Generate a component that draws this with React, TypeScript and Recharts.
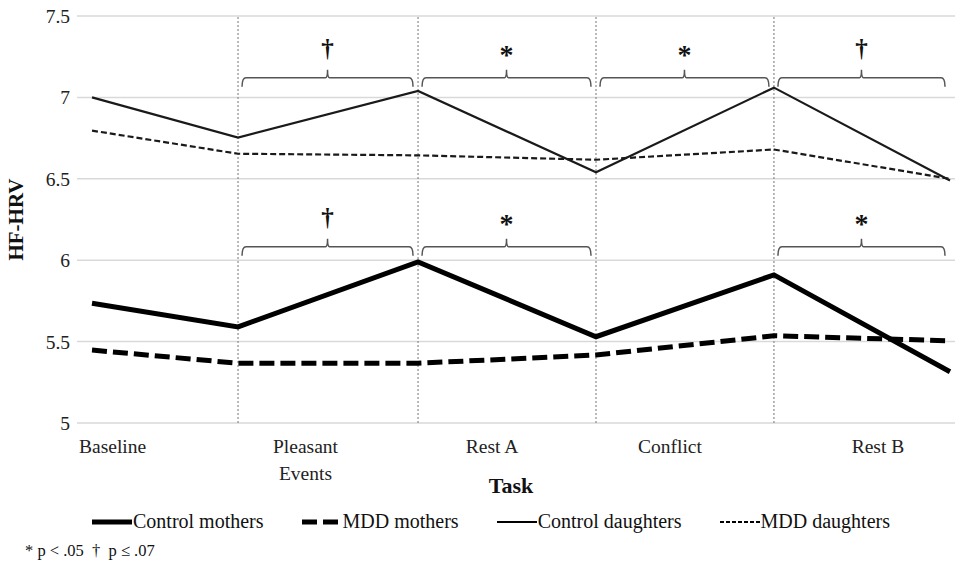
import React from 'react';
import { CartesianGrid, Line, LineChart, ReferenceLine, XAxis, YAxis } from 'recharts';

// task positions along the x axis (measurement points)
const taskX = [0, 0.851, 1.9, 2.937, 3.974, 5];

const controlMothers = [5.735, 5.59, 5.99, 5.53, 5.91, 5.315];
const mddMothers = [5.448, 5.367, 5.367, 5.418, 5.536, 5.505];
const controlDaughters = [7.0, 6.753, 7.04, 6.54, 7.06, 6.49];
const mddDaughters = [6.796, 6.654, 6.644, 6.617, 6.68, 6.5];

const taskLabels = ['Baseline', 'Pleasant\nEvents', 'Rest A', 'Conflict', 'Rest B'];
const taskLabelPos = [0.12, 1.244, 2.331, 3.368, 4.58];
const yTicks = [5, 5.5, 6, 6.5, 7, 7.5];

// significance brackets: from point index to point index
const brackets = [
   { from: 1, to: 2, level: 7.12, mark: '†' },
   { from: 2, to: 3, level: 7.12, mark: '*' },
   { from: 3, to: 4, level: 7.12, mark: '*' },
   { from: 4, to: 5, level: 7.12, mark: '†' },
   { from: 1, to: 2, level: 6.083, mark: '†' },
   { from: 2, to: 3, level: 6.083, mark: '*' },
   { from: 4, to: 5, level: 6.083, mark: '*' },
];

const data = taskX.map((x, i) => ({
   x,
   cm: controlMothers[i],
   mm: mddMothers[i],
   cd: controlDaughters[i],
   md: mddDaughters[i],
}));

const series = [
   { key: 'cm', name: 'Control mothers', width: 5, dash: undefined, color: '#000' },
   { key: 'mm', name: 'MDD mothers', width: 5, dash: '15 6', color: '#000' },
   { key: 'cd', name: 'Control daughters', width: 2.2, dash: undefined, color: '#1a1a1a' },
   { key: 'md', name: 'MDD daughters', width: 2.2, dash: '6 3', color: '#1a1a1a' },
];

const FONT = '"Liberation Serif", "Times New Roman", serif';

const TaskTick = (props: any) => {
   const { x, y, payload } = props;
   const idx = taskLabelPos.indexOf(payload.value);
   const lines = (taskLabels[idx] || '').split('\n');
   return (
      <text x={x} y={y + 28} textAnchor="middle" fontFamily={FONT} fontSize={19.5} fill="#222">
         {lines.map((l, i) => (
            <tspan key={i} x={x} dy={i === 0 ? 0 : 27}>
               {l}
            </tspan>
         ))}
      </text>
   );
};

const BracketShape = (props: any) => {
   const { x1, y1, x2, mark } = props;
   const a = x1 + 4;
   const b = x2 - 5;
   const m = (a + b) / 2;
   const y = y1;
   const d = `M${a} ${y + 9} Q${a} ${y} ${a + 4} ${y} L${m - 2} ${y} Q${m} ${y} ${m} ${y - 8} Q${m} ${y} ${m + 2} ${y} L${b - 4} ${y} Q${b} ${y} ${b} ${y + 9}`;
   const base = mark === '*' ? y - 14 : y - 21;
   return (
      <g>
         <path d={d} fill="none" stroke="#555" strokeWidth={1.5} />
         <text x={m} y={base} textAnchor="middle" fontFamily={FONT} fontWeight="bold" fontSize={mark === '*' ? 28 : 25} fill="#111">
            {mark}
         </text>
      </g>
   );
};

const LegendSample = ({ width, dash }: { width: number; dash?: string }) => (
   <svg width={40} height={10} style={{ display: 'block' }}>
      <line x1={0} y1={5} x2={40} y2={5} stroke="#000" strokeWidth={width} strokeDasharray={dash} />
   </svg>
);

export default function App() {
   return (
      <div style={{ position: 'absolute', left: 0, top: 0, width: 955, height: 572, background: '#fff', fontFamily: FONT }}>
         <LineChart width={955} height={572} data={data} margin={{ top: 16, right: 0, left: 0, bottom: 89 }}>
            <CartesianGrid vertical={false} stroke="#d9d9d9" strokeWidth={1.5} />
            <XAxis
               type="number"
               dataKey="x"
               domain={[-0.0874, 5.0291]}
               ticks={taskLabelPos}
               tick={<TaskTick />}
               axisLine={false}
               tickLine={false}
               tickSize={0}
               height={60}
               interval={0}
               allowDataOverflow
            />
            <YAxis
               domain={[5, 7.5]}
               ticks={yTicks}
               width={77}
               axisLine={false}
               tickLine={false}
               tickSize={0}
               tickMargin={7}
               tick={{ fontFamily: FONT, fontSize: 19.5, fill: '#222' }}
               label={{
                  value: 'HF-HRV',
                  angle: -90,
                  position: 'insideLeft',
                  dx: 11,
                  style: { fontFamily: FONT, fontSize: 21, fontWeight: 'bold', fill: '#111', textAnchor: 'middle' },
               }}
            />
            {taskX.slice(1, 5).map((x) => (
               <ReferenceLine key={x} x={x} stroke="#8c8c8c" strokeDasharray="2 2" strokeWidth={1.2} />
            ))}
            {brackets.map((b, i) => (
               <ReferenceLine
                  key={i}
                  segment={[
                     { x: taskX[b.from], y: b.level },
                     { x: taskX[b.to], y: b.level },
                  ]}
                  shape={(p: any) => <BracketShape {...p} mark={b.mark} />}
               />
            ))}
            {series.map((s) => (
               <Line
                  key={s.key}
                  type="linear"
                  dataKey={s.key}
                  name={s.name}
                  stroke={s.color}
                  strokeWidth={s.width}
                  strokeDasharray={s.dash}
                  dot={false}
                  activeDot={false}
                  isAnimationActive={false}
               />
            ))}
         </LineChart>
         <div style={{ position: 'absolute', left: 0, width: 1022, top: 473, textAlign: 'center', fontSize: 22, fontWeight: 'bold', color: '#111' }}>Task</div>
         <div style={{ position: 'absolute', left: 92, top: 510, display: 'flex', alignItems: 'center', fontSize: 20, color: '#111' }}>
            {series.map((s) => (
               <div key={s.key} style={{ display: 'flex', alignItems: 'center', marginRight: 38 }}>
                  <LegendSample width={s.width} dash={s.dash ? (s.width > 3 ? '15 6' : '4 2') : undefined} />
                  <span style={{ marginLeft: 1 }}>{s.name}</span>
               </div>
            ))}
         </div>
         <div style={{ position: 'absolute', left: 25, top: 541, fontSize: 16.5, color: '#111' }}>* p &lt; .05 &nbsp;† &nbsp;p ≤ .07</div>
      </div>
   );
}
